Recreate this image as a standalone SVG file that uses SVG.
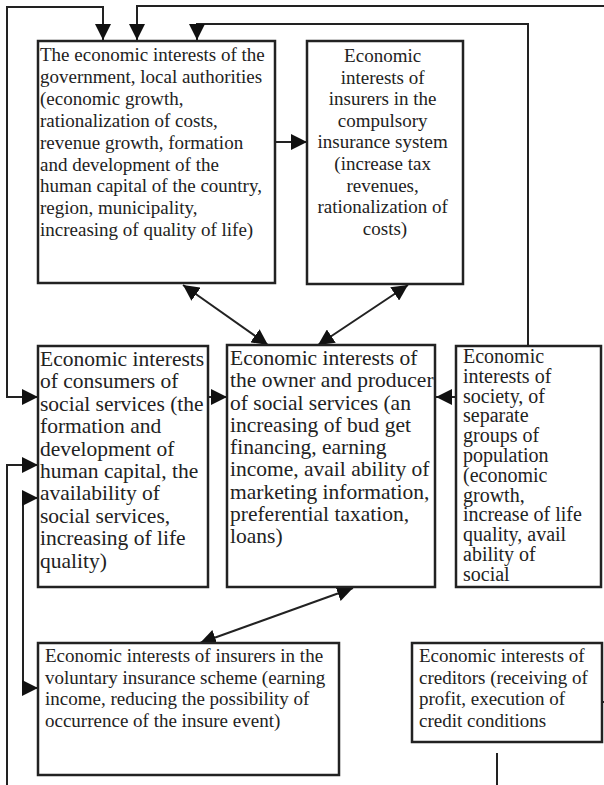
<svg xmlns="http://www.w3.org/2000/svg" width="604" height="785" viewBox="0 0 604 785">
<style>
.box{fill:#fff;stroke:#222;stroke-width:2.5}
.t{font-family:"Liberation Serif","Times New Roman",serif;fill:#222}
.s{font-size:19px}
.l{font-size:21.5px}
.m{font-size:20px}
.c{fill:none;stroke:#222;stroke-width:2}
.a{marker-end:url(#ah)}
.d{marker-start:url(#ah);marker-end:url(#ah)}
</style>
<defs>
<marker id="ah" markerUnits="userSpaceOnUse" markerWidth="16" markerHeight="16" viewBox="0 0 14 14" refX="14" refY="7" orient="auto-start-reverse">
<path d="M0,0 L14,7 L0,14 Z" fill="#111"/>
</marker>
</defs>
<rect width="604" height="785" fill="#fff"/>
<g id="connectors">
<path class="c d" d="M103,40 L103,7 L7,7 L7,397 L38,397"/>
<path class="c a" d="M604,6 L137,6 L137,40"/>
<path class="c a" d="M528,346 L528,24 L197,24 L197,40"/>
<path class="c a" d="M275,142 L307,142"/>
<path class="c d" d="M183,285 L268,345"/>
<path class="c d" d="M408,285 L318,345"/>
<path class="c a" d="M208,397 L227,397"/>
<path class="c a" d="M456,397 L436,397"/>
<path class="c a" d="M7,785 L7,465 L38,465"/>
<path class="c d" d="M38,498 L23,498 L23,688 L38,688"/>
<path class="c d" d="M353,588 L200,643"/>
<path class="c" d="M497,753 L497,785"/>
<path class="c" d="M602,702 L604,702"/>
</g>
<g id="government">
<rect class="box" x="38" y="41" width="237" height="242"/>
<text class="t s">
<tspan x="40" y="61">The economic interests of the</tspan>
<tspan x="40" dy="21.9">government, local authorities</tspan>
<tspan x="40" dy="21.9">(economic growth,</tspan>
<tspan x="40" dy="21.9">rationalization of costs,</tspan>
<tspan x="40" dy="21.9">revenue growth, formation</tspan>
<tspan x="40" dy="21.9">and development of the</tspan>
<tspan x="40" dy="21.9">human capital of the country,</tspan>
<tspan x="40" dy="21.9">region, municipality,</tspan>
<tspan x="40" dy="21.9">increasing of quality of life)</tspan>
</text>
</g>
<g id="compulsory">
<rect class="box" x="307" y="41" width="156" height="243"/>
<text class="t s" text-anchor="middle">
<tspan x="385" y="62">Economic</tspan>
<tspan x="385" dy="21.6">interests of</tspan>
<tspan x="385" dy="21.6">insurers in the</tspan>
<tspan x="385" dy="21.6">compulsory</tspan>
<tspan x="385" dy="21.6">insurance system</tspan>
<tspan x="385" dy="21.6">(increase tax</tspan>
<tspan x="385" dy="21.6">revenues,</tspan>
<tspan x="385" dy="21.6">rationalization of</tspan>
<tspan x="385" dy="21.6">costs)</tspan>
</text>
</g>
<g id="consumers">
<rect class="box" x="38" y="346" width="170" height="241"/>
<text class="t l">
<tspan x="40" y="366">Economic interests</tspan>
<tspan x="40" dy="22.4">of consumers of</tspan>
<tspan x="40" dy="22.4">social services (the</tspan>
<tspan x="40" dy="22.4">formation and</tspan>
<tspan x="40" dy="22.4">development of</tspan>
<tspan x="40" dy="22.4">human capital, the</tspan>
<tspan x="40" dy="22.4">availability of</tspan>
<tspan x="40" dy="22.4">social services,</tspan>
<tspan x="40" dy="22.4">increasing of life</tspan>
<tspan x="40" dy="22.4">quality)</tspan>
</text>
</g>
<g id="owner">
<rect class="box" x="227" y="345" width="208" height="242"/>
<text class="t l">
<tspan x="230" y="365">Economic interests of</tspan>
<tspan x="230" dy="22.25">the owner and producer</tspan>
<tspan x="230" dy="22.25">of social services (an</tspan>
<tspan x="230" dy="22.25">increasing of bud get</tspan>
<tspan x="230" dy="22.25">financing, earning</tspan>
<tspan x="230" dy="22.25">income, avail ability of</tspan>
<tspan x="230" dy="22.25">marketing information,</tspan>
<tspan x="230" dy="22.25">preferential taxation,</tspan>
<tspan x="230" dy="22.25">loans)</tspan>
</text>
</g>
<g id="society">
<rect class="box" x="456" y="346" width="145" height="241"/>
<text class="t m">
<tspan x="463" y="363">Economic</tspan>
<tspan x="463" dy="19.8">interests of</tspan>
<tspan x="463" dy="19.8">society, of</tspan>
<tspan x="463" dy="19.8">separate</tspan>
<tspan x="463" dy="19.8">groups of</tspan>
<tspan x="463" dy="19.8">population</tspan>
<tspan x="463" dy="19.8">(economic</tspan>
<tspan x="463" dy="19.8">growth,</tspan>
<tspan x="463" dy="19.8">increase of life</tspan>
<tspan x="463" dy="19.8">quality, avail</tspan>
<tspan x="463" dy="19.8">ability of</tspan>
<tspan x="463" dy="19.8">social</tspan>
</text>
</g>
<g id="voluntary">
<rect class="box" x="38" y="643" width="301" height="132"/>
<text class="t s">
<tspan x="45" y="662">Economic interests of insurers in the</tspan>
<tspan x="45" dy="21.7">voluntary insurance scheme (earning</tspan>
<tspan x="45" dy="21.7">income, reducing the possibility of</tspan>
<tspan x="45" dy="21.7">occurrence of the insure event)</tspan>
</text>
</g>
<g id="creditors">
<rect class="box" x="412" y="643" width="190" height="99"/>
<text class="t s">
<tspan x="419" y="662">Economic interests of</tspan>
<tspan x="419" dy="21.7">creditors (receiving of</tspan>
<tspan x="419" dy="21.7">profit, execution of</tspan>
<tspan x="419" dy="21.7">credit conditions</tspan>
</text>
</g>
</svg>
